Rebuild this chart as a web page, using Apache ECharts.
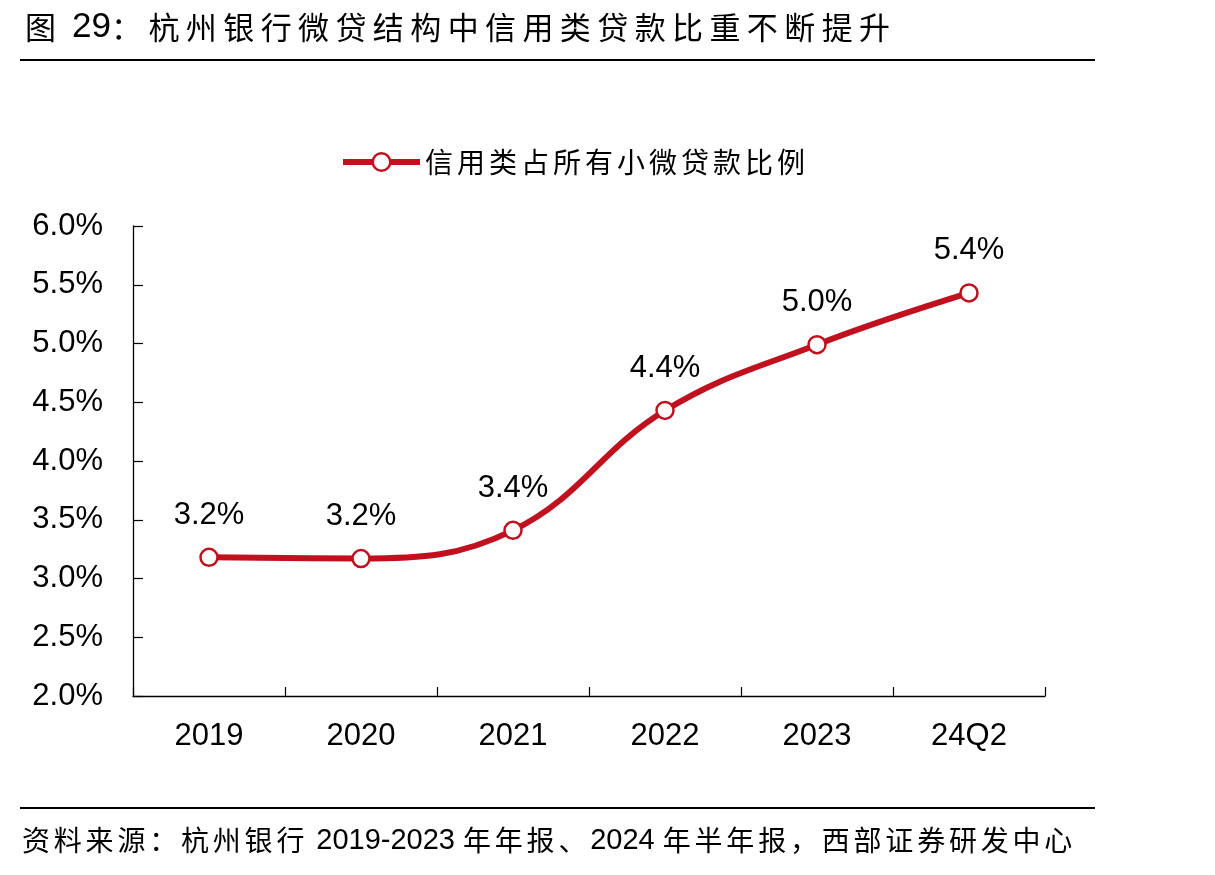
<!DOCTYPE html>
<html>
<head>
<meta charset="utf-8">
<script src="https://cdn.jsdelivr.net/npm/echarts@6/dist/echarts.min.js"></script>
<style>
  html, body { margin: 0; padding: 0; background: #fff; }
  #chart { width: 1215px; height: 875px; }
</style>
</head>
<body>
<div id="chart"></div>
<script>
// 数据
const categories = ['2019', '2020', '2021', '2022', '2023', '24Q2'];
const creditRatio = [3.18, 3.17, 3.41, 4.43, 4.99, 5.43]; // 信用类占所有小微贷款比例 (%)
const seriesName = '信用类占所有小微贷款比例';
const yTicks = { min: 2.0, max: 6.0, interval: 0.5 };

const RED = '#C0111F';
const CJK = '"Noto Sans CJK SC", sans-serif';
const LATIN = '"Liberation Sans", Arial, sans-serif';

// 中文逐字固定字距（模拟原图字间距）
const spaced = (str, style) => Array.from(str).map(ch => `{${style}|${ch}}`).join('');

const titleRich = '{c|图}{l| 29}' + spaced('：杭州银行微贷结构中信用类贷款比重不断提升', 'c');
const sourceRich = spaced('资料来源：杭州银行', 's') + '{n| 2019-2023 }'
  + spaced('年年报、', 's') + '{n|2024 }' + spaced('年半年报，西部证券研发中心', 's');

const chart = echarts.init(document.getElementById('chart'));

const option = {
  backgroundColor: '#fff',
  animation: false,
  graphic: [
    { // 标题
      type: 'text',
      left: 25,
      top: 10,
      style: {
        text: titleRich,
        rich: {
          c: { fontFamily: CJK, fontSize: 31, width: 37.4, color: '#000' },
          l: { fontFamily: LATIN, fontSize: 35, color: '#000' },
        },
      },
    },
    { // 标题下横线
      type: 'line',
      shape: { x1: 20, y1: 60, x2: 1095, y2: 60 },
      style: { stroke: '#000', lineWidth: 2 },
    },
    { // 底部横线
      type: 'line',
      shape: { x1: 20, y1: 808, x2: 1095, y2: 808 },
      style: { stroke: '#000', lineWidth: 2 },
    },
    { // 资料来源
      type: 'text',
      left: 22,
      top: 826,
      style: {
        text: sourceRich,
        rich: {
          s: { fontFamily: CJK, fontSize: 28, width: 31.8, color: '#000' },
          n: { fontFamily: LATIN, fontSize: 29, color: '#000' },
        },
      },
    },
  ],
  legend: {
    show: true,
    top: 143,
    left: 335,
    itemWidth: 77,
    itemHeight: 22,
    lineStyle: { width: 6 },
    itemStyle: { borderWidth: 2.5 },
    textStyle: {
      rich: { c: { fontFamily: CJK, fontSize: 28, width: 32, color: '#000' } },
    },
    formatter: (name) => spaced(name, 'c'),
    data: [seriesName],
  },
  grid: {
    left: 133,
    right: 170,
    top: 226,
    bottom: 179,
  },
  xAxis: {
    type: 'category',
    data: categories,
    boundaryGap: true,
    axisLine: { lineStyle: { color: '#000', width: 1.3 } },
    axisTick: { show: true, inside: true, length: 9, lineStyle: { color: '#000', width: 1.2 } },
    axisLabel: { color: '#000', fontFamily: LATIN, fontSize: 31, margin: 25 },
    splitLine: { show: false },
  },
  yAxis: {
    type: 'value',
    min: yTicks.min,
    max: yTicks.max,
    interval: yTicks.interval,
    axisLine: { show: true, lineStyle: { color: '#000', width: 1.3 } },
    axisTick: { show: true, inside: true, length: 10, lineStyle: { color: '#000', width: 1.2 } },
    axisLabel: {
      color: '#000',
      fontFamily: LATIN,
      fontSize: 31,
      margin: 30,
      formatter: (v) => v.toFixed(1) + '%',
    },
    splitLine: { show: false },
  },
  series: [{
    name: seriesName,
    type: 'line',
    data: creditRatio,
    smooth: 0.4,
    symbol: 'circle',
    symbolSize: 17,
    showAllSymbol: true,
    lineStyle: { color: RED, width: 6 },
    itemStyle: { color: '#fff', borderColor: RED, borderWidth: 2.5 },
    label: {
      show: true,
      position: 'top',
      distance: 17,
      color: '#000',
      fontFamily: LATIN,
      fontSize: 31,
      formatter: (p) => p.value.toFixed(1) + '%',
    },
  }],
};

chart.setOption(option);
</script>
</body>
</html>
